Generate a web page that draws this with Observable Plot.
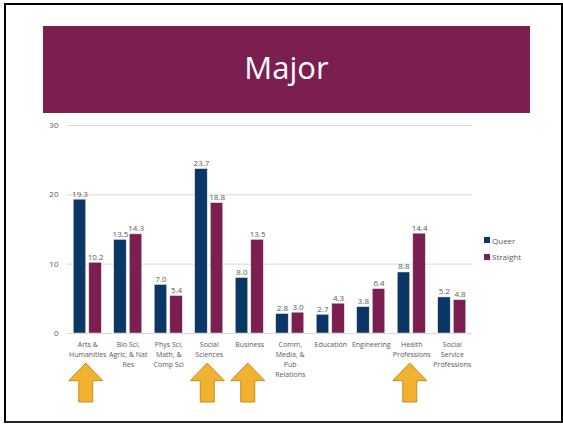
<!DOCTYPE html>
<html>
<head>
<meta charset="utf-8">
<script src="https://cdn.jsdelivr.net/npm/d3@7"></script>
<script src="https://cdn.jsdelivr.net/npm/@observablehq/plot@0.6"></script>
<style>
  html, body { margin: 0; padding: 0; background: #fff; }
  #page { position: relative; width: 563px; height: 424px; overflow: hidden; font-family: "Open Sans", sans-serif; }
  #frame { position: absolute; left: 4px; top: 3px; width: 559px; height: 420px; box-sizing: border-box; border: 2px solid #000; border-bottom-color: #222; }
  #banner { position: absolute; left: 43px; top: 26px; width: 487px; height: 87px; background: #7B1E50; color: #fff; }
  #banner span { position: absolute; left: 0; right: 0; top: 26px; text-align: center; font-size: 31px; line-height: 1; }
  #chart { position: absolute; left: 0; top: 115px; }
  #legend { position: absolute; left: 484px; top: 232px; font-size: 8px; color: #595959; }
  #legend .row { display: flex; align-items: center; height: 16.5px; }
  #legend .sw { width: 6px; height: 6px; margin-right: 2px; }
</style>
</head>
<body>
<div id="page">
  <div id="frame"></div>
  <div id="banner"><span>Major</span></div>
  <div id="chart"></div>
  <div id="legend"></div>
</div>
<script>
const categories = [
  "Arts &\nHumanities",
  "Bio Sci,\nAgric, & Nat\nRes",
  "Phys Sci,\nMath, &\nComp Sci",
  "Social\nSciences",
  "Business",
  "Comm,\nMedia, &\nPub\nRelations",
  "Education",
  "Engineering",
  "Health\nProfessions",
  "Social\nService\nProfessions"
];
const series = ["Queer", "Straight"];
const queer = [19.3, 13.5, 7.0, 23.7, 8.0, 2.8, 2.7, 3.8, 8.8, 5.2];
const straight = [10.2, 14.3, 5.4, 18.8, 13.5, 3.0, 4.3, 6.4, 14.4, 4.8];
const highlighted = ["Arts &\nHumanities", "Social\nSciences", "Business", "Health\nProfessions"];
const yTicks = [0, 10, 20, 30];
const colors = ["#0B3766", "#7B1E50"];

const data = [];
categories.forEach((c, i) => {
  data.push({category: c, group: series[0], value: queer[i]});
  data.push({category: c, group: series[1], value: straight[i]});
});

const plot = Plot.plot({
  width: 563,
  height: 300,
  marginLeft: 67,
  marginRight: 91,
  marginTop: 10,
  marginBottom: 82,
  style: {fontFamily: "Open Sans, sans-serif", background: "transparent", overflow: "visible"},
  fx: {domain: categories, padding: 0, round: false, axis: null, label: null},
  x: {domain: series, paddingInner: 0.2, paddingOuter: 0.4, round: false, axis: null, label: null},
  y: {domain: [0, 30], ticks: yTicks, tickSize: 0, tickPadding: 9, label: null, fontSize: 8},
  color: {domain: series, range: colors},
  marks: [
    Plot.ruleY(yTicks, {stroke: "#d9d9d9", strokeWidth: 1}),
    Plot.barY(data, {fx: "category", x: "group", y: "value", fill: "group", stroke: "#e8e8f0", strokeWidth: 0.5}),
    Plot.text(data, {fx: "category", x: "group", y: "value", text: d => d.value.toFixed(1), lineAnchor: "bottom", dy: -3, fill: "#595959", fontSize: 8}),
    Plot.text(categories, {fx: d => d, text: d => d, frameAnchor: "bottom", lineAnchor: "top", dy: 6, fontSize: 7, lineHeight: 1.43, fill: "#595959"})
  ]
});
plot.querySelectorAll("g[aria-label='y-axis tick label'] text, g[aria-label='y-axis'] text").forEach(t => { t.setAttribute("fill", "#595959"); t.style.fontSize = "8px"; });
document.getElementById("chart").appendChild(plot);

// highlight arrows positioned with Plot's fx scale
const fxs = plot.scale("fx");
const band = d3.scaleBand().domain(fxs.domain).range(fxs.range)
  .paddingInner(fxs.paddingInner || 0).paddingOuter(fxs.paddingOuter || 0).align(fxs.align ?? 0.5);
const yb = plot.scale("y").range[0];
const svg = d3.select(plot.tagName.toLowerCase() === "svg" ? plot : plot.querySelector("svg"));
const top0 = yb + 30, headBase = yb + 47.7, bottom0 = yb + 69;
svg.append("g").selectAll("path").data(highlighted).join("path")
  .attr("d", c => {
    const cx = band(c) + band.bandwidth() / 2 - 1.5;
    return `M${cx},${top0} L${cx + 17},${headBase} L${cx + 7},${headBase} L${cx + 7},${bottom0} L${cx - 7},${bottom0} L${cx - 7},${headBase} L${cx - 17},${headBase} Z`;
  })
  .attr("fill", "#F0B230").attr("stroke", "#C48D22").attr("stroke-width", 1);

// legend
const legend = d3.select("#legend");
series.forEach((s, i) => {
  const row = legend.append("div").attr("class", "row");
  row.append("div").attr("class", "sw").style("background", colors[i]);
  row.append("span").text(s);
});
</script>
</body>
</html>
